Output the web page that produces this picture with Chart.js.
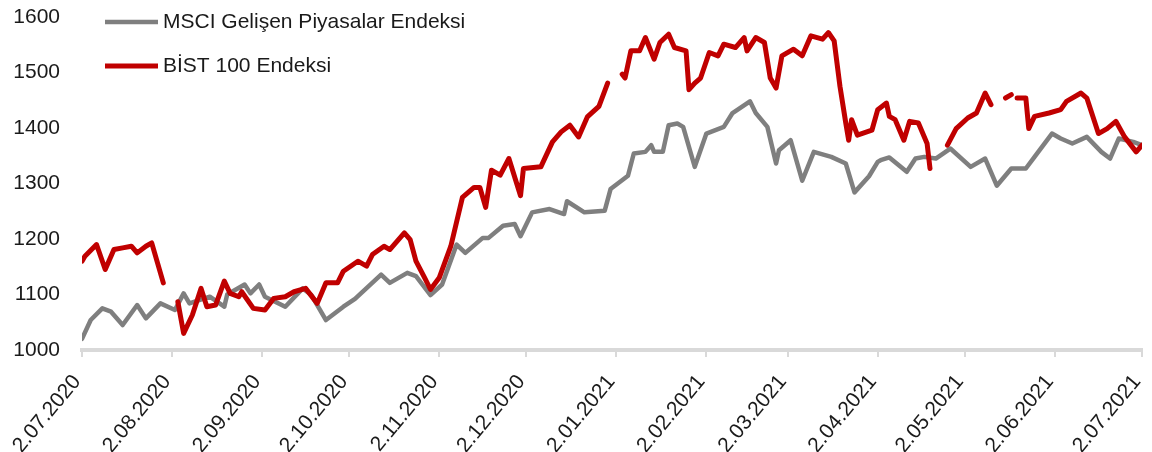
<!DOCTYPE html>
<html>
<head>
<meta charset="utf-8">
<script src="https://cdn.jsdelivr.net/npm/chart.js@4.4.1/dist/chart.umd.min.js"></script>
<style>
  html, body { margin: 0; padding: 0; background: #fff; }
</style>
</head>
<body>
<canvas id="myChart" width="1152" height="452"></canvas>
<script>
// ===== Data (x = days counted from 2.07.2020) =====
const tickLabels = ["2.07.2020", "2.08.2020", "2.09.2020", "2.10.2020", "2.11.2020", "2.12.2020",
                    "2.01.2021", "2.02.2021", "2.03.2021", "2.04.2021", "2.05.2021", "2.06.2021", "2.07.2021"];
const yTicks = [1000, 1100, 1200, 1300, 1400, 1500, 1600];
const seriesNames = ["MSCI Gelişen Piyasalar Endeksi", "BİST 100 Endeksi"];

const msciDays = [0,3,7,10,14,19,22,27,32,35,37,44,49,50,56,58,61,63,70,76,79,84,90,94,103,106,112,115,120,124,
  129,132,138,140,145,149,151,155,161,166,167,173,180,182,188,190,194,196,197,200,202,205,207,211,215,221,224,230,232,236,
  239,240,244,248,252,258,263,266,271,274,275,278,284,287,290,294,299,306,311,315,320,325,328,334,337,341,346,351,354,357,362,365];
const msciValues = [1020,1054,1075,1069,1045,1081,1057,1084,1072,1102,1084,1096,1078,1100,1118,1102,1118,1096,1078,1111,1099,1054,1078,1092,1136,1121,1139,1133,1099,1118,
  1190,1175,1202,1202,1224,1227,1205,1248,1254,1245,1268,1248,1251,1290,1314,1354,1357,1369,1357,1357,1405,1408,1402,1330,1390,1402,1427,1448,1427,1402,
  1336,1360,1378,1305,1357,1348,1336,1284,1313,1339,1342,1347,1321,1345,1348,1345,1363,1330,1345,1296,1327,1327,1348,1390,1381,1372,1384,1357,1345,1381,1375,1369];

// null = Borsa Istanbul closed (holiday)
const bistDays = [0,1,5,8,11,14,17,19,22,24,26,28,30,33,35,38,41,43,46,49,51,54,55,59,63,66,70,73,77,81,
  84,88,90,95,98,100,104,106,111,113,115,118,120,123,127,131,135,137,139,141,144,147,151,152,158,162,165,168,171,174,
  178,181,183,186,187,189,192,194,197,199,202,204,208,209,211,213,216,219,221,225,228,229,232,235,237,239,241,245,248,251,
  255,257,259,261,263,264,265,267,272,274,277,278,280,283,285,288,291,292,295,298,301,305,308,311,313,316,318,320,321,322,
  325,326,328,333,337,339,344,346,350,353,356,359,363,365];
const bistValues = [1160,1169,1190,1145,1181,1184,1187,1175,1187,1193,1157,1121,null,1087,1030,1063,1111,1078,1081,1124,1102,1096,1105,1075,1072,1093,1096,1105,1111,1084,
  1121,1121,1142,1160,1151,1172,1187,1181,1211,1199,1160,1130,1109,1130,1187,1275,1293,1293,1257,1324,1315,1345,1278,1327,1330,1375,1393,1405,1384,1420,
  1439,1481,null,1497,1490,1539,1539,1563,1524,1554,1569,1545,1539,1469,1481,1490,1536,1530,1551,1545,1563,1539,1563,1554,1490,1472,1530,1542,1530,1566,
  1560,1572,1557,1475,1409,1378,1415,1387,1396,1433,1445,1421,1415,1378,1412,1409,1372,1327,null,1369,1399,1418,1427,1463,1442,null,1454,1460,null,1454,
  1454,1399,1421,1427,1433,1448,1463,1454,1390,1399,1412,1384,1357,1369];

// ===== Helpers =====
const startDate = Date.UTC(2020, 6, 2);
function dayOf(label) {
  const p = label.split(".");
  return Math.round((Date.UTC(+p[2], +p[1] - 1, +p[0]) - startDate) / 86400000);
}
const tickDays = tickLabels.map(dayOf);
const toPoints = (days, vals) => days.map((d, i) => ({ x: d, y: vals[i] }));

const FONT = { family: "'Liberation Sans', Arial, sans-serif", size: 21 };
const TEXT = "#1a1a1a";

// ===== Legend drawn inside the plot area =====
const insideLegend = {
  id: "insideLegend",
  afterDraw(chart) {
    const ctx = chart.ctx, area = chart.chartArea;
    ctx.save();
    ctx.font = FONT.size + "px " + FONT.family;
    ctx.textBaseline = "middle";
    ctx.textAlign = "left";
    seriesNames.forEach((name, i) => {
      const ds = chart.data.datasets.find(d => d.label === name);
      const y = area.top + 5 + i * 44;
      ctx.strokeStyle = ds.borderColor;
      ctx.lineWidth = ds.borderWidth;
      ctx.beginPath();
      ctx.moveTo(area.left + 23, y);
      ctx.lineTo(area.left + 76, y);
      ctx.stroke();
      ctx.fillStyle = TEXT;
      ctx.fillText(name, area.left + 81, y);
    });
    ctx.restore();
  }
};

// ===== Chart =====
const ctx = document.getElementById("myChart").getContext("2d");
const chart = new Chart(ctx, {
  type: "line",
  data: {
    datasets: [{
      label: seriesNames[0],
      data: toPoints(msciDays, msciValues),
      borderColor: "#7f7f7f",
      borderWidth: 4.5,
      order: 1
    }, {
      label: seriesNames[1],
      data: toPoints(bistDays, bistValues),
      borderColor: "#c00000",
      borderWidth: 5,
      order: 0
    }]
  },
  options: {
    responsive: false,
    animation: false,
    spanGaps: false,
    elements: { point: { radius: 0 }, line: { tension: 0, borderJoinStyle: "round", borderCapStyle: "round" } },
    layout: { padding: { top: 17, right: 10, left: 0, bottom: 0 } },
    plugins: { legend: { display: false }, tooltip: { enabled: false } },
    scales: {
      x: {
        type: "linear",
        min: 0,
        max: tickDays[tickDays.length - 1],
        afterBuildTicks: s => { s.ticks = tickDays.map(v => ({ value: v })); },
        afterFit: s => { s.height = 102; s.paddingLeft = 0; s.paddingRight = 0; },
        ticks: {
          autoSkip: false, minRotation: 50, maxRotation: 50,
          font: FONT, color: TEXT, padding: 13, labelOffset: -5,
          callback: (v, i) => tickLabels[i]
        },
        grid: { drawOnChartArea: false, drawTicks: true, tickLength: 7, color: "#d9d9d9", lineWidth: 2 },
        border: { display: true, color: "#d9d9d9", width: 4 }
      },
      y: {
        min: yTicks[0],
        max: yTicks[yTicks.length - 1],
        afterBuildTicks: s => { s.ticks = yTicks.map(v => ({ value: v })); },
        afterFit: s => { s.width = 82; s.paddingTop = 0; s.paddingBottom = 0; },
        ticks: { font: FONT, color: TEXT, padding: 22, callback: v => String(v) },
        grid: { display: false, drawTicks: false, tickLength: 0 },
        border: { display: false }
      }
    }
  },
  plugins: [insideLegend]
});
</script>
</body>
</html>
